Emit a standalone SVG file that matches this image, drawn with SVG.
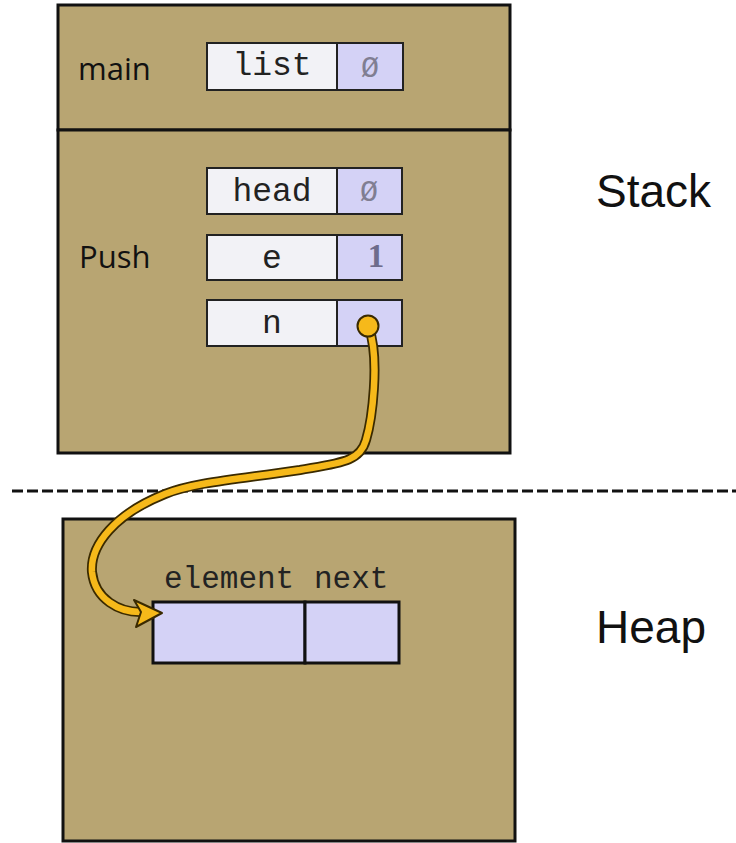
<svg xmlns="http://www.w3.org/2000/svg" width="736" height="843" viewBox="0 0 736 843">
  <style>
    .frame { fill: #b8a572; stroke: #111; stroke-width: 3; }
    .name { fill: #f2f2f6; stroke: #222; stroke-width: 2; }
    .val { fill: #d4d2f6; stroke: #222; stroke-width: 2; }
    .cell { fill: #d4d2f6; stroke: #111; stroke-width: 3; }
    .label { font-family: "Open Sans", "Liberation Sans", sans-serif; font-size: 31px; fill: #111; }
    .big { font-family: "Liberation Sans", Arial, sans-serif; font-size: 46px; fill: #111; }
    .mono { font-family: "Liberation Mono", "Courier New", monospace; font-size: 33px; fill: #222; text-anchor: middle; }
    .field { font-family: "Liberation Mono", "Courier New", monospace; font-size: 31px; fill: #222; }
    .null { font-family: "Liberation Mono", "Courier New", monospace; font-size: 30px; fill: #807e92; text-anchor: middle; }
    .num { font-family: "Liberation Serif", serif; font-weight: bold; font-size: 33px; fill: #6e6c8c; text-anchor: middle; }
    .ptr-edge { fill: none; stroke: #3a2a00; stroke-width: 10; stroke-linecap: round; }
    .ptr-core { fill: none; stroke: #f6b91a; stroke-width: 6.5; stroke-linecap: round; }
  </style>
  <defs>
    <path id="ptr-path" d="M369,328 C380,360 372,420 366,440 C360,462 340,463 300,470 C240,479 195,482 165,494 C115,514 90,545 92,572 C95,600 120,612 140,612"/>
  </defs>
  <rect width="736" height="843" fill="#fff"/>

  <!-- stack frames -->
  <g id="main-frame">
    <rect class="frame" x="58" y="5" width="452" height="125"/>
    <text class="label" x="78" y="80">main</text>
  </g>
  <g id="push-frame">
    <rect class="frame" x="58" y="130" width="452" height="323"/>
    <text class="label" x="79" y="268">Push</text>
  </g>

  <g id="var-list">
    <rect class="name" x="207" y="43" width="130" height="47"/>
    <rect class="val" x="337" y="43" width="66" height="47"/>
    <text class="mono" x="272" y="75">list</text>
    <text class="null" x="370" y="77">Ø</text>
  </g>
  <g id="var-head">
    <rect class="name" x="207" y="168" width="130" height="46"/>
    <rect class="val" x="337" y="168" width="65" height="46"/>
    <text class="mono" x="272" y="201">head</text>
    <text class="null" x="369" y="201">Ø</text>
  </g>
  <g id="var-e">
    <rect class="name" x="207" y="235" width="130" height="45"/>
    <rect class="val" x="337" y="235" width="65" height="45"/>
    <text class="mono" x="272" y="268">e</text>
    <text class="num" x="376" y="267">1</text>
  </g>
  <g id="var-n">
    <rect class="name" x="207" y="300" width="130" height="46"/>
    <rect class="val" x="337" y="300" width="65" height="46"/>
    <text class="mono" x="272" y="333">n</text>
  </g>

  <!-- stack / heap divider -->
  <line x1="12" y1="491" x2="736" y2="491" stroke="#111" stroke-width="3" stroke-dasharray="11 4"/>

  <g id="heap">
    <rect class="frame" x="63" y="519" width="452" height="322"/>
  </g>
  <g id="node">
    <text class="field" x="164" y="588">element</text>
    <text class="field" x="314" y="588">next</text>
    <rect class="cell" x="153" y="602" width="152" height="61"/>
    <rect class="cell" x="305" y="602" width="94" height="61"/>
  </g>

  <g id="labels">
    <text class="big" x="596" y="207">Stack</text>
    <text class="big" x="596" y="643">Heap</text>
  </g>

  <!-- pointer from n to the heap node -->
  <g id="connectors">
    <use href="#ptr-path" class="ptr-edge"/>
    <use href="#ptr-path" class="ptr-core"/>
    <polygon points="162,613 134,600 141,612 136,627" fill="#f6b91a" stroke="#3a2a00" stroke-width="2" stroke-linejoin="round"/>
    <circle cx="368" cy="326" r="10.5" fill="#f6b91a" stroke="#3a2a00" stroke-width="2"/>
  </g>
</svg>
